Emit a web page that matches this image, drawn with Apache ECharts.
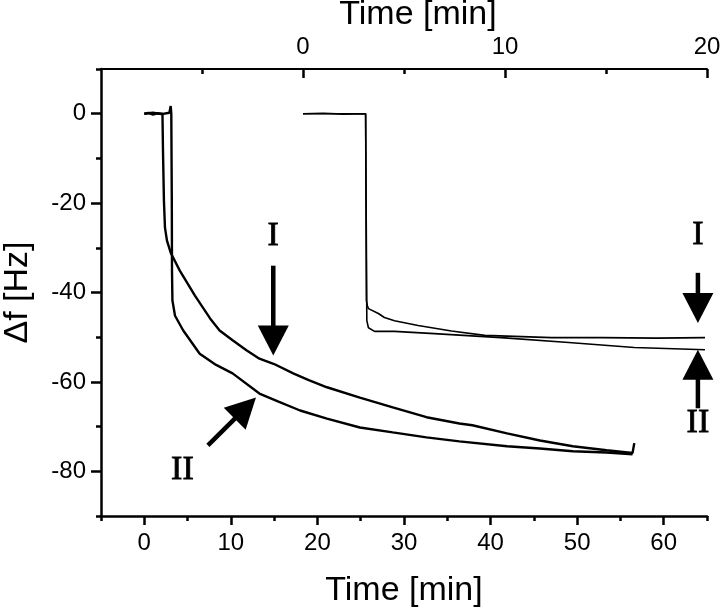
<!DOCTYPE html>
<html><head><meta charset="utf-8">
<script src="https://cdn.jsdelivr.net/npm/echarts@6/dist/echarts.min.js"></script>
<style>html,body{margin:0;padding:0;background:#fff}#c{width:720px;height:614px}</style>
</head><body><div id="c"></div>
<script>
// ---- data (time [min], Δf [Hz]) ----
// main experiment, bottom time axis
const mainI = [[0,0],[0.5,0.2],[1,-0.2],[1.5,0.1],[2.1,0],[2.16,-8.3],[2.27,-19.5],[2.39,-25.5],[2.62,-28.4],[3.05,-31.1],[4.1,-35.1],[5.85,-40.7],[7.6,-45.8],[8.7,-48.5],[10.2,-50.7],[11.8,-52.9],[13.3,-54.8],[15,-56],[17.2,-58.1],[19,-59.6],[21.1,-61.2],[24.9,-63.5],[28.7,-65.7],[32.6,-67.9],[36.4,-69.3],[37.9,-69.7],[41.9,-71.5],[45.7,-73.1],[49.5,-74.4],[53.4,-75.3],[56.4,-75.9],[56.6,-73.7]];
const mainII = [[0,0],[1,0.2],[2,-0.1],[2.9,0.2],[3.05,1.7],[3.12,0],[3.18,-20],[3.2,-35.1],[3.25,-41.8],[3.55,-45.2],[4.5,-48.5],[6.4,-53.7],[8.3,-56.2],[10.2,-58.1],[13.3,-62.6],[15.5,-64.4],[18,-66.4],[21.1,-68.2],[24.9,-70.2],[28.7,-71.3],[32.6,-72.4],[36.4,-73.3],[41.9,-74.4],[45.7,-74.9],[49.5,-75.5],[53.4,-75.8],[56.4,-76.2]];
// second experiment, top time axis
const topI = [[0,0],[1,0.1],[2,-0.1],[3.1,0],[3.14,-41.8],[3.19,-43],[3.24,-43.6],[3.73,-44.7],[4.03,-45.6],[4.53,-46.3],[5.7,-47.4],[7.35,-48.6],[9,-49.6],[12.3,-50.1],[14.8,-50.1],[17.5,-50.2],[19.9,-50.1]];
const topII = [[0,0],[3.1,0],[3.16,-46.3],[3.24,-47.9],[3.54,-48.7],[4.53,-48.7],[6.5,-49.2],[9.8,-50.1],[13.15,-51.2],[16.4,-52.3],[19.9,-52.8]];
// tick values
const xMajor = [0,10,20,30,40,50,60];
const xMinor = [-5,5,15,25,35,45,55,65];
const xTopMajor = [0,10,20];
const xTopMinor = [-5,5,15];
const yMajor = [0,-20,-40,-60,-80];
const yMinor = [10,-10,-30,-50,-70,-90];
// annotations in data coords (bottom x axis, left y axis)
const annotText = ['I','II','I','II'];
const annotAt = [[14.9,-27.3],[4.4,-79.7],[63.95,-27.1],[63.95,-69.3]];
const arrowTail = [[14.9,-34.0],[7.35,-74.2],[63.95,-35.6],[63.95,-65.9]];
const arrowTip = [[14.9,-54.1],[12.9,-63.5],[63.95,-46.8],[63.95,-52.8]];

const FONT = 'Liberation Sans, Arial, sans-serif';
const chart = echarts.init(document.getElementById('c'));
const lineBase = {color:'#000', width:2.5};
function xAx(o){return Object.assign({type:'value', splitLine:{show:false}, axisLine:{onZero:false, lineStyle:lineBase}}, o);}
chart.setOption({
  animation:false,
  backgroundColor:'#fff',
  grid:{left:101, right:13, top:69, bottom:98, containLabel:false, outerBoundsMode:'none'},
  xAxis:[
    xAx({position:'bottom', min:-5, max:65,
      axisTick:{customValues:xMajor, length:9, lineStyle:{color:'#000', width:2.5}},
      axisLabel:{customValues:xMajor, fontSize:24, color:'#000', fontFamily:FONT, margin:15},
      name:'Time [min]', nameLocation:'middle', nameGap:58,
      nameTextStyle:{fontSize:34, color:'#000', fontFamily:FONT}}),
    xAx({position:'top', min:-10, max:20, nameMoveOverlap:false,
      axisLine:{onZero:false, lineStyle:{color:'#000', width:2}},
      axisTick:{inside:true, customValues:xTopMajor, length:9, lineStyle:{color:'#000', width:2.5}},
      axisLabel:{customValues:xTopMajor, fontSize:24, color:'#000', fontFamily:FONT, margin:10},
      name:'Time [min]', nameLocation:'middle', nameGap:37,
      nameTextStyle:{fontSize:34, color:'#000', fontFamily:FONT, padding:[0,0,0,28]}}),
    xAx({position:'bottom', min:-5, max:65, axisLine:{show:false, onZero:false},
      axisTick:{customValues:xMinor, length:5, lineStyle:{color:'#000', width:2.5}},
      axisLabel:{show:false}}),
    xAx({position:'top', min:-10, max:20, axisLine:{show:false, onZero:false},
      axisTick:{inside:true, customValues:xTopMinor, length:5, lineStyle:{color:'#000', width:2.5}},
      axisLabel:{show:false}})
  ],
  yAxis:[
    {type:'value', position:'left', min:-90, max:10, splitLine:{show:false},
      axisLine:{show:true, onZero:false, lineStyle:lineBase},
      axisTick:{show:true, customValues:yMajor, length:10, lineStyle:{color:'#000', width:2.5}},
      axisLabel:{customValues:yMajor, fontSize:24, color:'#000', fontFamily:FONT, margin:15},
      name:'Δf [Hz]', nameLocation:'middle', nameGap:66, nameRotate:90,
      nameTextStyle:{fontSize:34, color:'#000', fontFamily:FONT}},
    {type:'value', position:'left', min:-90, max:10, splitLine:{show:false},
      axisLine:{show:false, onZero:false},
      axisTick:{show:true, customValues:yMinor, length:5, lineStyle:{color:'#000', width:2.5}},
      axisLabel:{show:false}}
  ],
  series:[
    {type:'line', name:'I', data:mainI, xAxisIndex:0, yAxisIndex:0, showSymbol:false, lineStyle:{color:'#000', width:2.4}},
    {type:'line', name:'II', data:mainII, xAxisIndex:0, yAxisIndex:0, showSymbol:false, lineStyle:{color:'#000', width:2.4}},
    {type:'line', name:'I top', data:topI, xAxisIndex:1, yAxisIndex:0, showSymbol:false, lineStyle:{color:'#000', width:1.6}},
    {type:'line', name:'II top', data:topII, xAxisIndex:1, yAxisIndex:0, showSymbol:false, lineStyle:{color:'#000', width:1.6}}
  ]
});

const px = p => chart.convertToPixel({xAxisIndex:0, yAxisIndex:0}, p);
const graphics = [];
annotText.forEach((t,i)=>{
  const p = px(annotAt[i]);
  graphics.push({type:'text', x:p[0], y:p[1], style:{text:t, fill:'#000', stroke:'#000', lineWidth:0.8, font:'34px "Liberation Serif", "Times New Roman", serif', align:'center', verticalAlign:'middle'}});
});
arrowTail.forEach((tl,i)=>{
  const a = px(tl), b = px(arrowTip[i]);
  const dx=b[0]-a[0], dy=b[1]-a[1], L=Math.hypot(dx,dy), ux=dx/L, uy=dy/L;
  const hl = 30, hw = 15.5;
  const bx=b[0]-ux*hl, by=b[1]-uy*hl;
  graphics.push({type:'line', shape:{x1:a[0], y1:a[1], x2:bx+ux*2, y2:by+uy*2}, style:{stroke:'#000', lineWidth:4.5}});
  graphics.push({type:'polygon', shape:{points:[[b[0],b[1]],[bx-uy*hw,by+ux*hw],[bx+uy*hw,by-ux*hw]]}, style:{fill:'#000'}});
});
chart.setOption({graphic:graphics});
</script></body></html>
